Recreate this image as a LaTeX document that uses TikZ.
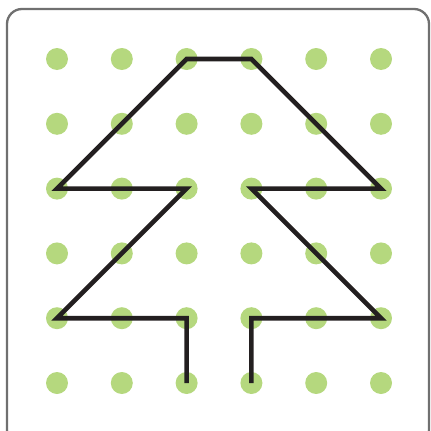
\documentclass[tikz,border=0pt]{standalone}
\definecolor{dotgreen}{HTML}{B5D87E}
\definecolor{framegray}{HTML}{707070}
\definecolor{ink}{HTML}{231F20}
\tikzset{
  gdot/.style={circle,fill=dotgreen,inner sep=0pt,minimum size=22pt},
  frame/.style={draw=framegray,line width=2.3pt,rounded corners=15pt},
  treeline/.style={draw=ink,line width=4.6pt}
}
\begin{document}
\begin{tikzpicture}[x=1pt,y=-1pt]
\useasboundingbox (0,0) rectangle (431,431);
\draw[frame] (7,9) rectangle (429,445);
\foreach \i in {0,...,5}{
  \foreach \j in {0,...,5}{
    \node[gdot] (d\i\j) at ({57+64.8*\i},{59+64.8*\j}) {};
  }
}
\draw[treeline] (d25.center) -- (d24.center) -- (d04.center) -- (d22.center) -- (d02.center) -- (d20.center) -- (d30.center) -- (d52.center) -- (d32.center) -- (d54.center) -- (d34.center) -- (d35.center);
\end{tikzpicture}
\end{document}
